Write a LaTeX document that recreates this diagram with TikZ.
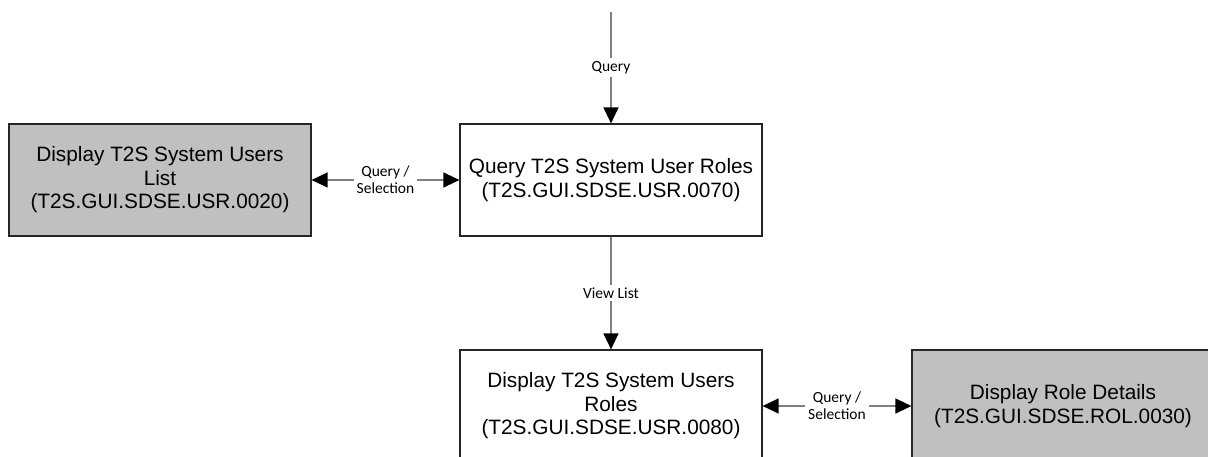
\documentclass[tikz,border=0pt]{standalone}
\usepackage{fontspec}
\setmainfont{Liberation Sans}
\newfontfamily\lblfont{Carlito}
\usetikzlibrary{arrows.meta}
\definecolor{boxgray}{HTML}{C0C0C0}
\definecolor{linegray}{HTML}{808080}
\begin{document}
\begin{tikzpicture}[x=1pt,y=-1pt,
  procbox/.style={draw=black!85,line width=1.2pt,minimum width=302pt,minimum height=112pt,align=center,inner sep=0pt,
    font=\fontsize{20.8}{23.5}\selectfont},
  shaded/.style={procbox,fill=boxgray},
  conn/.style={draw=linegray,line width=1.3pt},
  tip/.style={-{Triangle[length=16pt,width=15pt,color=black]}},
  bitip/.style={{Triangle[length=16pt,width=15pt,color=black]}-{Triangle[length=16pt,width=15pt,color=black]}},
  lbl/.style={fill=white,inner sep=3pt,font=\lblfont\fontsize{15.5}{17}\selectfont,align=center,text=black}]
\useasboundingbox (0,0) rectangle (1208,457);
\clip (0,0) rectangle (1208,457);
\node[shaded] (users) at (160,180) {Display T2S System Users\\List\\(T2S.GUI.SDSE.USR.0020)};
\node[procbox] (query) at (611,180) {Query T2S System User Roles\\(T2S.GUI.SDSE.USR.0070)};
\node[procbox] (roles) at (611,406) {Display T2S System Users\\Roles\\(T2S.GUI.SDSE.USR.0080)};
\node[shaded] (details) at (1063,406) {Display Role Details\\(T2S.GUI.SDSE.ROL.0030)};
\coordinate (top) at (611,12);
\draw[conn,tip] (top) -- node[lbl,pos=0.5] {Query} (query.north);
\draw[conn,tip] (query.south) -- node[lbl,pos=0.5] {View List} (roles.north);
\draw[conn,bitip] (users.east) -- node[lbl,pos=0.5] {Query /\\Selection} (query.west);
\draw[conn,bitip] (roles.east) -- node[lbl,pos=0.5] {Query /\\Selection} (details.west);
\end{tikzpicture}
\end{document}
